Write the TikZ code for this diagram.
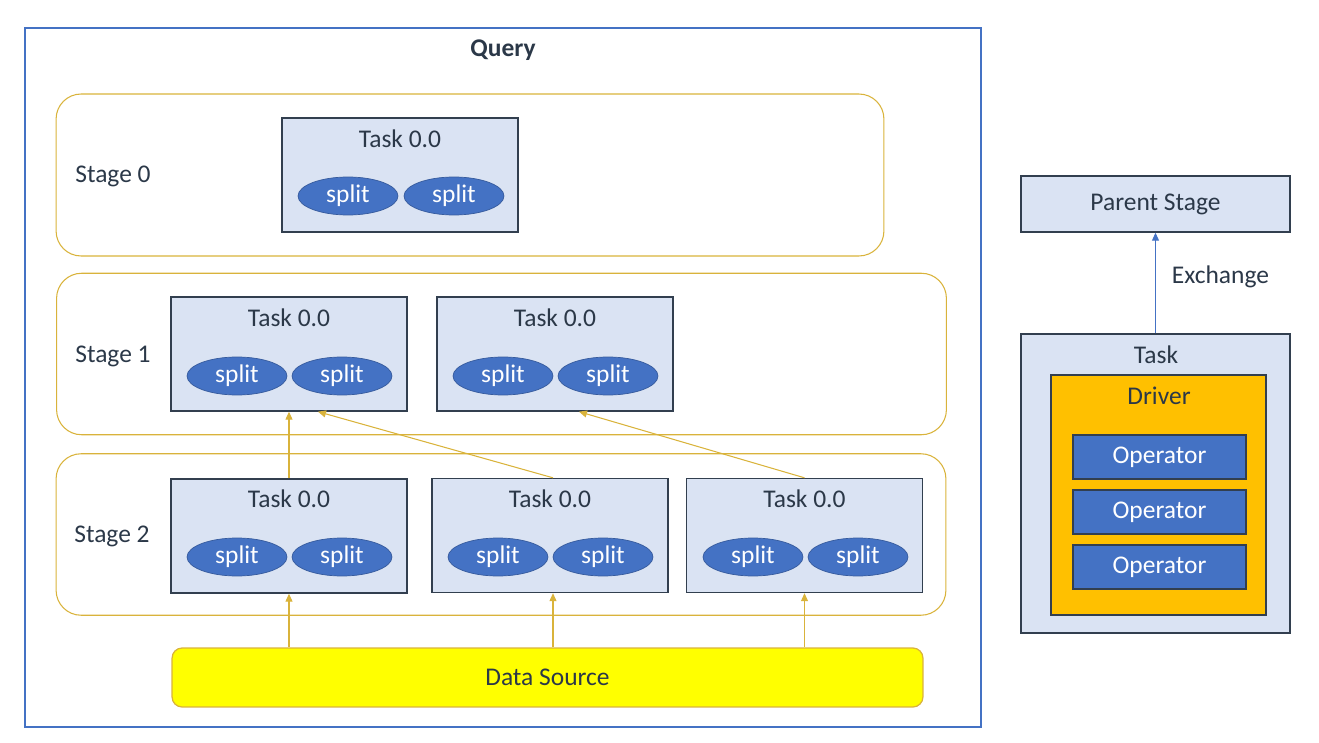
\documentclass[tikz,border=0pt]{standalone}
\usepackage{fontspec}
\setmainfont{Carlito}
\usepackage{tikz}
\usetikzlibrary{positioning,
                arrows.meta,
                shapes.geometric}
\definecolor{queryblue}{HTML}{4472C4}
\definecolor{stagegold}{HTML}{D9B33B}
\definecolor{taskfill}{HTML}{DAE3F3}
\definecolor{boxline}{HTML}{323F4F}
\definecolor{splitblue}{HTML}{4472C4}
\definecolor{driverorange}{HTML}{FFC000}
\definecolor{sourceyellow}{HTML}{FFFF00}
\definecolor{inktext}{HTML}{2B3848}

\begin{document}
\begin{tikzpicture}[x=0.02cm,y=-0.02cm]

\tikzset{
stagebox/.style={
draw=stagegold,
line width=0.6pt,
rounded corners=0.5cm,
minimum width=17.8cm,
minimum height=3.23cm
},
taskbox/.style={
draw=boxline,
fill=taskfill,
line width=0.8pt,
minimum width=4.72cm,
minimum height=2.28cm
},
splitnode/.style={
ellipse,
draw=splitblue!80!black,
fill=splitblue,
text=white,
minimum width=2cm,
minimum height=0.76cm,
inner sep=0pt,
font=\fontsize{14.5}{16}\selectfont
},
opbox/.style={
draw=boxline,
fill=splitblue,
text=white,
line width=0.8pt,
minimum width=3.46cm,
minimum height=0.88cm,
font=\fontsize{14.5}{16}\selectfont
},
plaintext/.style={
text=inktext,
font=\fontsize{14.5}{16}\selectfont
},
flowarrow/.style={
draw=stagegold,
line width=0.6pt,
-{Triangle[length=1.6mm,width=1.4mm]}
}
}

\useasboundingbox (0,0) rectangle (1319,743);

%--------------------------------------------------
% QUERY
%--------------------------------------------------

\node[draw=queryblue,line width=0.7pt,
minimum width=19.12cm,minimum height=13.98cm]
(query) at (503,377.5) {};
\node[plaintext,font=\fontsize{14.5}{16}\selectfont\bfseries]
(querytitle) at (503,50) {Query};

%--------------------------------------------------
% STAGE 0
%--------------------------------------------------

\node[stagebox,minimum width=16.56cm,minimum height=3.24cm]
(stage0) at (470,175) {};
\node[plaintext] (stage0label) at (113,176) {Stage 0};

\node[taskbox] (t00) at (400,175) {};
\node[plaintext] at (400,139) {Task 0.0};
\node[splitnode] at (348,196) {split};
\node[splitnode] at (454,196) {split};

%--------------------------------------------------
% STAGE 1
%--------------------------------------------------

\node[stagebox] (stage1) at (501.5,354) {};
\node[plaintext] (stage1label) at (113,356) {Stage 1};

\node[taskbox] (t10) at (289,354) {};
\node[plaintext] at (289,318) {Task 0.0};
\node[splitnode] at (237,376) {split};
\node[splitnode] at (342,376) {split};

\node[taskbox] (t11) at (555,354) {};
\node[plaintext] at (555,318) {Task 0.0};
\node[splitnode] at (503,376) {split};
\node[splitnode] at (608,376) {split};

%--------------------------------------------------
% STAGE 2
%--------------------------------------------------

\node[stagebox] (stage2) at (501,534.5) {};
\node[plaintext] (stage2label) at (112,536) {Stage 2};

\node[taskbox] (t20) at (289,536) {};
\node[plaintext] at (289,499) {Task 0.0};
\node[splitnode] at (237,557) {split};
\node[splitnode] at (342,557) {split};

\node[taskbox] (t21) at (550,535.5) {};
\node[plaintext] at (550,499) {Task 0.0};
\node[splitnode] at (498,557) {split};
\node[splitnode] at (603,557) {split};

\node[taskbox] (t22) at (804.5,535.5) {};
\node[plaintext] at (804.5,499) {Task 0.0};
\node[splitnode] at (753,557) {split};
\node[splitnode] at (858,557) {split};

%--------------------------------------------------
% DATA SOURCE
%--------------------------------------------------

\node[draw=stagegold,fill=sourceyellow,line width=0.7pt,
rounded corners=0.2cm,
minimum width=15.02cm,minimum height=1.18cm,
plaintext]
(source) at (547.5,677.5) {Data Source};

\draw[flowarrow] (source.north -| t20.south) -- (t20.south);
\draw[flowarrow] ([xshift=0.06cm]source.north -| t21.south)
  -- ([xshift=0.06cm]t21.south);
\draw[flowarrow] (source.north -| t22.south) -- (t22.south);

\draw[flowarrow] (t20.north) -- (t10.south);
\draw[flowarrow] ([xshift=0.06cm]t21.north) -- ([xshift=0.58cm]t10.south);
\draw[flowarrow] (t22.north) -- ([xshift=0.48cm]t11.south);

%--------------------------------------------------
% TASK DETAIL
%--------------------------------------------------

\node[draw=boxline,fill=taskfill,line width=0.8pt,
minimum width=5.38cm,minimum height=1.12cm,plaintext]
(parent) at (1155.5,204) {Parent Stage};

\node[draw=boxline,fill=taskfill,line width=0.8pt,
minimum width=5.38cm,minimum height=5.98cm]
(task) at (1155.5,483.5) {};
\node[plaintext] (tasktitle) at (1156,355) {Task};

\node[draw=boxline,fill=driverorange,line width=0.8pt,
minimum width=4.3cm,minimum height=4.8cm]
(driver) at (1158.5,495) {};
\node[plaintext] (drivertitle) at (1159,396) {Driver};

\node[opbox] (op1) at (1159.5,457) {Operator};
\node[opbox] (op2) at (1159.5,512) {Operator};
\node[opbox] (op3) at (1159.5,567) {Operator};

\draw[draw=queryblue,line width=0.6pt,
-{Triangle[length=1.6mm,width=1.4mm]}]
(task.north) -- (parent.south)
node[midway,right=0.2cm,yshift=0.12cm,plaintext] {Exchange};

\end{tikzpicture}
\end{document}
